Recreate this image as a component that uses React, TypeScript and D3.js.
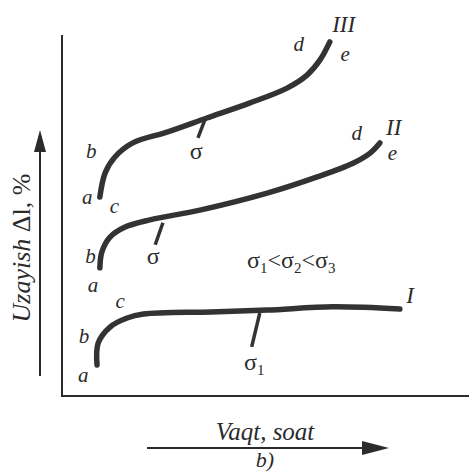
import React from "react";
import * as d3 from "d3";

// creep curves, abstract units: time 0..100, elongation 0..100
const curveI: [number, number][] = [
  [8.6, 8.6], [8.9, 14.7], [11.8, 19.1], [16, 21.6], [20, 22.7], [36.6, 23.3], [50.4, 23.8], [66.6, 24.7], [83, 24.1],
];
const curveII: [number, number][] = [
  [9.3, 35.5], [9.8, 39.9], [11.8, 44], [15.5, 46.8], [21.6, 48.8], [33.9, 51.5], [50.4, 56.2],
  [62.7, 60.7], [71.5, 64.5], [75.7, 67.3], [78.1, 70.1],
];
const curveIII: [number, number][] = [
  [9.3, 55.1], [10.6, 61.8], [13, 66.2], [17.4, 70.1], [25.8, 73.1], [35.6, 77], [46.2, 81.2],
  [55.3, 85.3], [60.2, 88.9], [63.4, 93.1], [65.8, 98.1],
];

// stress marks [from, to]
const stressTicks: [number, number][][] = [
  [[48.6, 23], [46.6, 13.6]],
  [[24.8, 48], [22.9, 41.9]],
  [[35.1, 76.5], [33.4, 71.5]],
];

// point letters: [text, t, e]
const pointLabels: [string, number, number][] = [
  ["a", 5.2, 3.9], ["b", 5.4, 14.7], ["c", 14.3, 24.4],
  ["a", 7.6, 28.8], ["b", 7, 36.8], ["d", 72.4, 70.9], ["e", 81.2, 65.4],
  ["a", 6.2, 53.2], ["b", 7.2, 65.9], ["c", 12.9, 50.7], ["d", 58.2, 95.5], ["e", 69.6, 92.9],
];
const romanLabels: [string, number, number][] = [
  ["I", 85.5, 25.8], ["II", 81.5, 72.3], ["III", 69.2, 100.9],
];

export default function App() {
  const width = 469;
  const height = 474;
  const x = d3.scaleLinear().domain([0, 100]).range([62, 469]);
  const y = d3.scaleLinear().domain([0, 100]).range([396, 35]);
  const line = d3
    .line<[number, number]>()
    .x((d) => x(d[0]))
    .y((d) => y(d[1]))
    .curve(d3.curveCatmullRom.alpha(0.5));

  const ink = "#2b2b2b";
  const serif = "'Liberation Serif', 'DejaVu Serif', serif";

  return (
    <svg width={width} height={height} style={{ position: "fixed", left: 0, top: 0, background: "#fff" }}>
      {/* frame */}
      <path d={`M${x(0)},${y(100)}V${y(0)}H${width}`} fill="none" stroke={ink} strokeWidth={2} />

      {/* curves */}
      {[curveI, curveII, curveIII].map((c, i) => (
        <path key={i} d={line(c) || ""} fill="none" stroke="#333" strokeWidth={5.5} strokeLinecap="round" />
      ))}
      {stressTicks.map((s, i) => (
        <line key={i} x1={x(s[0][0])} y1={y(s[0][1])} x2={x(s[1][0])} y2={y(s[1][1])} stroke="#333" strokeWidth={3.5} />
      ))}

      <g fontFamily={serif} fontStyle="italic" fill={ink}>
        {pointLabels.map(([t, a, b], i) => (
          <text key={i} x={x(a)} y={y(b)} fontSize={21} textAnchor="middle">{t}</text>
        ))}
        {romanLabels.map(([t, a, b], i) => (
          <text key={i} x={x(a)} y={y(b)} fontSize={23} textAnchor="middle">{t}</text>
        ))}
      </g>

      {/* stress labels */}
      <g fontFamily={serif} fill={ink} fontSize={24}>
        <text x={x(33)} y={y(65.6)} textAnchor="middle">σ</text>
        <text x={x(22.4)} y={y(36.5)} textAnchor="middle">σ</text>
        <text x={244} y={370}>σ<tspan fontSize={15} dy={5}>1</tspan></text>
        <text x={247} y={268}>
          σ<tspan fontSize={15} dy={5}>1</tspan>
          <tspan dy={-5}>&lt;σ</tspan><tspan fontSize={15} dy={5}>2</tspan>
          <tspan dy={-5}>&lt;σ</tspan><tspan fontSize={15} dy={5}>3</tspan>
        </text>
      </g>

      {/* y arrow + label */}
      <line x1={40} y1={376} x2={40} y2={146} stroke={ink} strokeWidth={2} />
      <path d="M40,130L34,152L46,152Z" fill={ink} />
      <text
        transform="translate(30,248) rotate(-90)"
        textAnchor="middle"
        fontFamily={serif}
        fontSize={26}
        fill={ink}
      >
        <tspan fontStyle="italic">Uzayish</tspan> Δl, %
      </text>

      {/* x arrow + label */}
      <line x1={147} y1={448} x2={370} y2={448} stroke={ink} strokeWidth={2} />
      <path d="M389,448L362,441L362,455Z" fill={ink} />
      <text x={265} y={440} textAnchor="middle" fontFamily={serif} fontStyle="italic" fontSize={25} fill={ink}>
        Vaqt, soat
      </text>
      <text x={265} y={467} textAnchor="middle" fontFamily={serif} fontStyle="italic" fontSize={22} fill={ink}>
        b)
      </text>
    </svg>
  );
}
